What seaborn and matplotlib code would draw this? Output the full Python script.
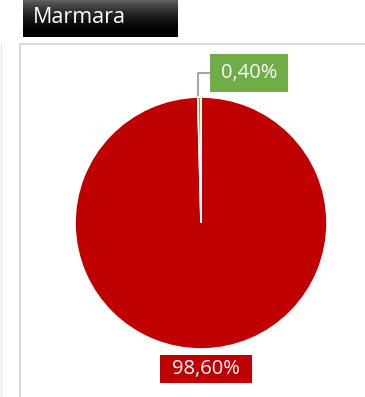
import numpy as np
import matplotlib
matplotlib.use("Agg")
import matplotlib.pyplot as plt
import seaborn as sns
from matplotlib.patches import Rectangle
from matplotlib.lines import Line2D

# ---- DATA ----
title = "Marmara"
shares = [98.6, 0.4]
share_labels = ["98,60%", "0,40%"]
slice_colors = ["#C00000", "#70AD47"]

W, H = 365, 397


def px_axes(fig, x, y, w, h):
    # pixel box (top-left origin) -> figure axes
    return fig.add_axes([x / W, 1 - (y + h) / H, w / W, h / H])


def label_box(ax, x0, x1, y0, y1, text, color):
    ax.add_patch(Rectangle((x0, y0), x1 - x0, y1 - y0, facecolor=color, edgecolor="none",
                           clip_on=False, zorder=3))
    ax.text((x0 + x1) / 2, (y0 + y1) / 2, text, color="white", fontsize=14.5,
            ha="center", va="center", clip_on=False, zorder=4)


sns.set_theme(style="white")
plt.rcParams["font.family"] = ["Open Sans", "DejaVu Sans"]

fig = plt.figure(figsize=(W / 100, H / 100), dpi=100)
fig.patch.set_facecolor("white")

# ---- CHART FRAME ----
fig.patches.append(Rectangle((20 / W, -0.05), 1.0, 1 - 44 / H + 0.05, transform=fig.transFigure,
                             fill=False, edgecolor="#D9D9D9", linewidth=1.5))
fig.lines.append(Line2D([1 / W, 1 / W], [0, 1 - 44 / H], transform=fig.transFigure,
                        color="#E6E6E6", linewidth=1.0))

# ---- TITLE BOX ----
tax = px_axes(fig, 23, 0, 155, 37)
grad = (np.linspace(1, 0, 64) ** 2 * 0.38).reshape(-1, 1)
tax.imshow(grad, aspect="auto", cmap="gray", vmin=0, vmax=1, extent=[0, 1, 0, 1])
tax.text(0.065, 0.52, title, color="white", fontsize=15.5, va="center", ha="left",
         transform=tax.transAxes)
tax.set_axis_off()

# ---- PIE ----
ax = px_axes(fig, 75, 97, 252, 252)
wedges, _ = ax.pie(shares, colors=slice_colors, startangle=90, counterclock=False,
                   radius=1.0, wedgeprops=dict(edgecolor="white", linewidth=1.2))
ax.set_xlim(-1, 1)
ax.set_ylim(-1, 1)
ax.set_aspect("equal")
ax.set_axis_off()

# data labels
label_box(ax, 0.071, 0.69, 1.04, 1.34, share_labels[1], slice_colors[1])
label_box(ax, -0.325, 0.405, -1.27, -1.048, share_labels[0], slice_colors[0])

# leader line for the small slice
ax.plot([0.071, -0.024, -0.024], [1.19, 1.19, 1.0], color="#A6A6A6", linewidth=1.5,
        clip_on=False, zorder=0)

fig.savefig("out.png", dpi=100)
